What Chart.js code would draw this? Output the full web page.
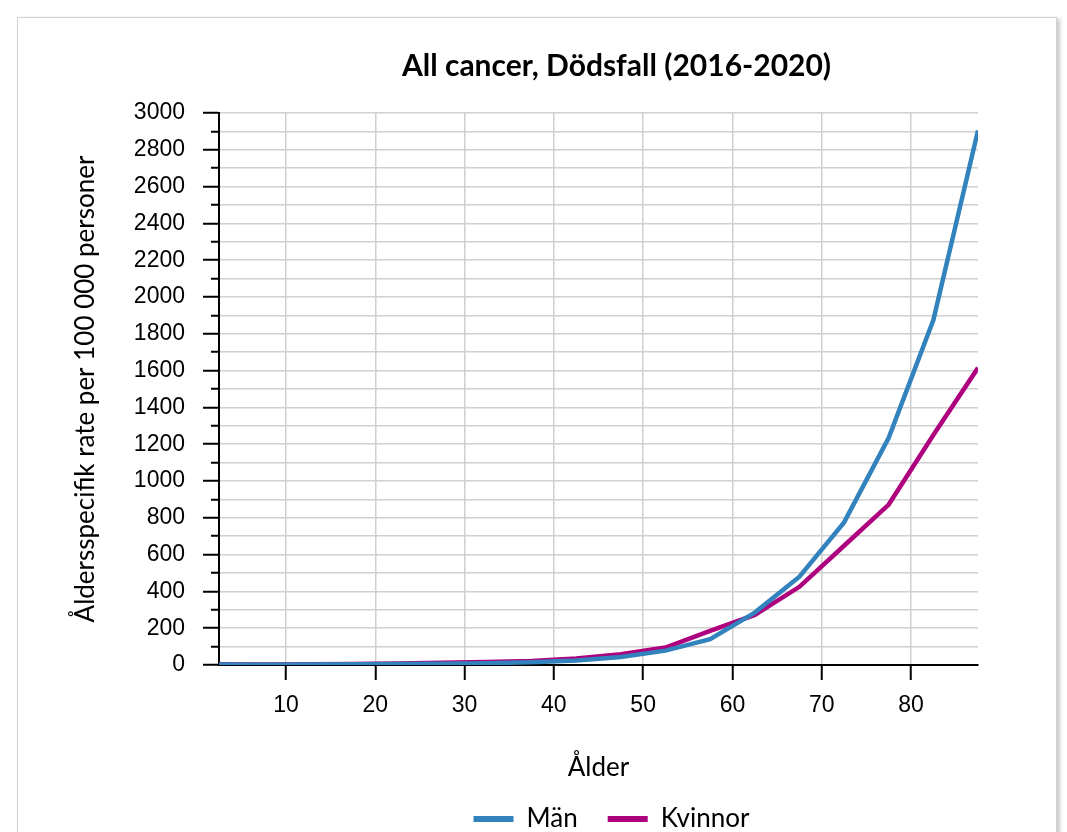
<!DOCTYPE html>
<html lang="sv">
<head>
  <meta charset="UTF-8">
  <title>All cancer, Dödsfall (2016-2020)</title>
  <style>
    html, body {
      margin: 0;
      padding: 0;
      background: #fff;
      overflow: hidden;
    }
    .card {
      position: absolute;
      left: 17px;
      top: 17px;
      width: 1038px;
      height: 900px;
      border: 1px solid #d2d2d2;
      box-shadow: 3px 2px 4px rgba(0, 0, 0, 0.22);
      background: #fff;
    }
    .chart-box {
      position: absolute;
      left: 0;
      top: 0;
      width: 1067px;
      height: 842px;
    }
  </style>
</head>
<body>
  <div class="card"></div>
  <div class="chart-box">
    <canvas id="cancerChart"></canvas>
  </div>

  <script src="https://cdn.jsdelivr.net/npm/chart.js"></script>
  <script>
    // age group midpoints (0-4, 5-9, ... 85+)
    const ages = [2.5, 7.5, 12.5, 17.5, 22.5, 27.5, 32.5, 37.5, 42.5, 47.5, 52.5, 57.5, 62.5, 67.5, 72.5, 77.5, 82.5, 87.5];
    // rate per 100 000
    const man = [3, 2, 3, 4, 5, 7, 10, 15, 24, 44, 78, 140, 285, 480, 775, 1235, 1875, 2905];
    const kvinnor = [4, 3, 4, 6, 8, 12, 16, 22, 35, 58, 95, 185, 272, 425, 648, 872, 1250, 1615];
    const xTickValues = [10, 20, 30, 40, 50, 60, 70, 80];

    const blue = '#3182bd';
    const purple = '#ae017e';
    const tickFont = { family: "'Liberation Sans', Arial, sans-serif", size: 23 };
    const textFont = "Lato, 'Noto Sans', sans-serif";

    // shift title and legend a bit right, like the original
    const nudge = {
      id: 'nudge',
      afterLayout(chart) {
        chart.titleBlock.left += 18;
        chart.titleBlock.right += 18;
        chart.legend.left += 13;
        chart.legend.right += 13;
      }
    };

    const ctx = document.getElementById('cancerChart').getContext('2d');
    new Chart(ctx, {
      type: 'line',
      data: {
        datasets: [{
          label: 'Män',
          data: ages.map((a, i) => ({ x: a, y: man[i] })),
          borderColor: blue,
          backgroundColor: blue,
          borderWidth: 4.5,
          pointRadius: 0,
          tension: 0
        }, {
          label: 'Kvinnor',
          data: ages.map((a, i) => ({ x: a, y: kvinnor[i] })),
          borderColor: purple,
          backgroundColor: purple,
          borderWidth: 4.5,
          pointRadius: 0,
          tension: 0
        }]
      },
      options: {
        responsive: true,
        maintainAspectRatio: false,
        animation: false,
        layout: { padding: { top: 10, left: 60, right: 89, bottom: 0 } },
        plugins: {
          title: {
            display: true,
            text: 'All cancer, Dödsfall (2016-2020)',
            fullSize: false,
            color: '#000',
            font: { family: textFont, size: 30, weight: 'bold' },
            padding: { top: 38, bottom: 29 }
          },
          legend: {
            position: 'bottom',
            fullSize: false,
            labels: {
              color: '#000',
              font: { family: textFont, size: 26 },
              boxWidth: 40,
              boxHeight: 6,
              padding: 30,
              generateLabels: chart =>
                Chart.defaults.plugins.legend.labels.generateLabels(chart).map(l => ({ ...l, lineWidth: 0 }))
            }
          },
          tooltip: { enabled: false }
        },
        scales: {
          x: {
            type: 'linear',
            min: 2.5,
            max: 87.5,
            afterBuildTicks: s => { s.ticks = xTickValues.map(v => ({ value: v })); },
            afterFit: s => { s.height = 111; },
            border: { color: '#000', width: 2 },
            grid: {
              color: '#d0d0d0',
              lineWidth: 1.5,
              tickColor: '#000',
              tickWidth: 2,
              tickLength: 15
            },
            ticks: { color: '#000', font: tickFont, padding: 12, maxRotation: 0 },
            title: {
              display: true,
              text: 'Ålder',
              color: '#000',
              font: { family: textFont, size: 26 },
              padding: { top: 0, bottom: -7 }
            }
          },
          y: {
            min: 0,
            max: 3000,
            afterFit: s => { s.width = 159; },
            border: { color: '#000', width: 2 },
            grid: {
              color: '#d0d0d0',
              lineWidth: 1.5,
              tickColor: '#000',
              tickWidth: 2,
              tickLength: 16,
              // minor ticks (every 100) only show the inner half
              tickBorderDash: c => (c.tick && c.tick.value % 200 !== 0) ? [8, 8] : [],
              tickBorderDashOffset: 8
            },
            ticks: {
              stepSize: 100,
              autoSkip: false,
              color: '#000',
              font: tickFont,
              padding: 18,
              callback: v => (v % 200 === 0 ? v : '')
            },
            title: {
              display: true,
              text: 'Åldersspecifik rate per 100 000 personer',
              color: '#000',
              font: { family: textFont, size: 26 },
              padding: { top: 10, bottom: 0 }
            }
          }
        }
      },
      plugins: [nudge]
    });
  </script>
</body>
</html>
